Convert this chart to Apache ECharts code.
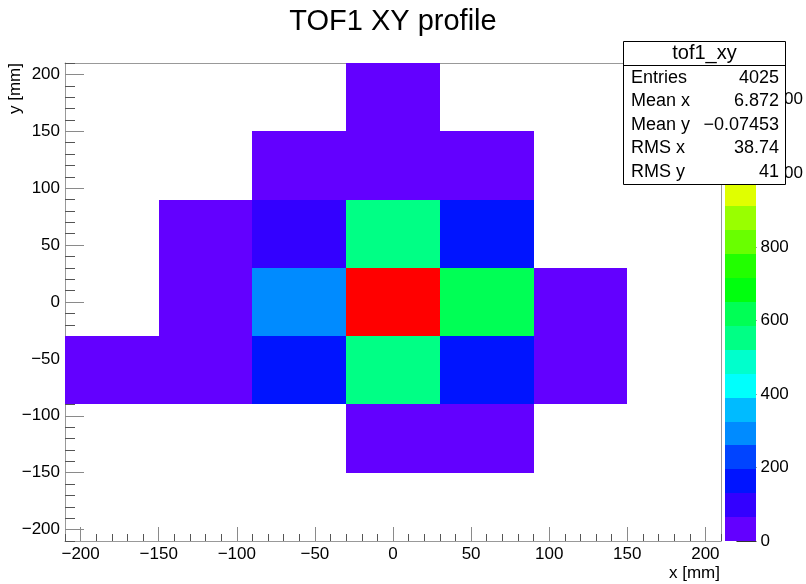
<!DOCTYPE html>
<html><head><meta charset="utf-8">
<script src="https://cdn.jsdelivr.net/npm/echarts@6/dist/echarts.min.js"></script>
<style>html,body{margin:0;padding:0;background:#fff}#c{width:806px;height:584px}</style>
</head><body><div id="c"></div>
<script>
// ---- data ----
const binX = [0, -60, 0, 60, -120, -60, 0, 60, -120, -60, 0, 60, 120, -180, -120, -60, 0, 60, 120, 0, 60];
const binY = [180, 120, 120, 120, 60, 60, 60, 60, 0, 0, 0, 0, 0, -60, -60, -60, -60, -60, -60, -120, -120];
const binCounts = [10, 12, 8, 11, 8, 100, 556, 175, 9, 273, 1300, 640, 10, 6, 9, 135, 554, 180, 8, 12, 9];
const binWidth = 60;
const axisMin = -210, axisMax = 210;
const majorTicks = [-200, -150, -100, -50, 0, 50, 100, 150, 200];
const zTicks = [0, 200, 400, 600, 800, 1000, 1200];
const nLevels = 20;
const titleText = 'TOF1 XY profile';
const xTitle = 'x [mm]';
const yTitle = 'y [mm]';
const statsTitle = 'tof1_xy';
const statsLabels = ['Entries', 'Mean x', 'Mean y', 'RMS x', 'RMS y'];
const statsValues = ['4025', '6.872', '\u22120.07453', '38.74', '41'];

// ---- helpers ----
const FONT = '"Liberation Sans", Arial, Helvetica, sans-serif';
function hslToHex(h, s, l) {
  const k = n => (n + h / 30) % 12;
  const a = s * Math.min(l, 1 - l);
  const f = n => l - a * Math.max(-1, Math.min(k(n) - 3, Math.min(9 - k(n), 1)));
  const toHex = x => Math.round(x * 255).toString(16).padStart(2, '0');
  return '#' + toHex(f(0)) + toHex(f(8)) + toHex(f(4));
}
function levelColor(k) {
  const idx = Math.floor((k + 0.99) * 50 / nLevels);
  const hue = 280 - (idx + 1) * 5.6;
  return hslToHex(Math.max(hue, 0), 1, 0.5);
}
const zMax = Math.max(...binCounts);
const zStep = zMax / nLevels;
function levelOf(v) { return Math.min(nLevels - 1, Math.floor(v / zStep)); }
const fmt = v => String(v).replace('-', '\u2212');
const minorTicks = [];
for (let v = axisMin; v <= axisMax; v += 10) if (v % 50 !== 0) minorTicks.push(v);
const levels = [];
for (let k = 0; k < nLevels; k++) levels.push([k]);

const cellData = binX.map((x, i) => [x, binY[i], binCounts[i]]);

const chart = echarts.init(document.getElementById('c'), null, { renderer: 'canvas' });
const majorCol = '#8a8a8a', minorCol = '#555';
const GL = 65, GT = 63, GW = 656, GH = 478;

function mainAxis(extra) {
  return Object.assign({ gridIndex: 0, type: 'value', min: axisMin, max: axisMax, splitLine: { show: false } }, extra);
}
const frameLine = { show: true, onZero: false, lineStyle: { color: '#999', width: 1 } };
const noLine = { show: false, onZero: false };

function rectFrom(p1, p2, fill) {
  const x1 = Math.round(p1[0]), y1 = Math.round(p1[1]), x2 = Math.round(p2[0]), y2 = Math.round(p2[1]);
  return { type: 'rect', shape: { x: x1, y: y1, width: x2 - x1, height: y2 - y1 }, style: { fill: fill, stroke: null } };
}

const option = {
  animation: false,
  backgroundColor: '#fff',
  textStyle: { fontFamily: FONT },
  grid: [
    { left: GL, top: GT, width: GW, height: GH, containLabel: false },
    { left: 725, top: GT, width: 37, height: GH, containLabel: false }
  ],
  xAxis: [
    mainAxis({ position: 'bottom', axisLine: frameLine,
      axisTick: { show: true, inside: true, length: 14, customValues: majorTicks, lineStyle: { color: majorCol } },
      axisLabel: { show: true, customValues: majorTicks, formatter: fmt, fontSize: 17, color: '#000', margin: 5, fontFamily: FONT } }),
    mainAxis({ position: 'bottom', axisLine: noLine,
      axisTick: { show: true, inside: true, length: 7, customValues: minorTicks, lineStyle: { color: minorCol } },
      axisLabel: { show: false } }),
    mainAxis({ position: 'top', axisLine: frameLine, axisTick: { show: false }, axisLabel: { show: false } }),
    { gridIndex: 1, type: 'value', min: 0, max: 1, show: false, axisLine: noLine }
  ],
  yAxis: [
    mainAxis({ position: 'left', axisLine: frameLine,
      axisTick: { show: true, inside: true, length: 19, customValues: majorTicks, lineStyle: { color: majorCol } },
      axisLabel: { show: true, customValues: majorTicks, formatter: fmt, fontSize: 17, color: '#000', margin: 5, fontFamily: FONT } }),
    mainAxis({ position: 'left', axisLine: noLine,
      axisTick: { show: true, inside: true, length: 10, customValues: minorTicks, lineStyle: { color: minorCol } },
      axisLabel: { show: false } }),
    mainAxis({ position: 'right', axisLine: frameLine, axisTick: { show: false }, axisLabel: { show: false } }),
    { gridIndex: 1, type: 'value', min: 0, max: zMax, position: 'right',
      axisLine: noLine, splitLine: { show: false },
      axisTick: { show: true, inside: true, length: 20, customValues: zTicks, lineStyle: { color: '#333' } },
      axisLabel: { show: true, customValues: zTicks, fontSize: 17, color: '#000', margin: 4, fontFamily: FONT } }
  ],
  series: [
    {
      type: 'custom', xAxisIndex: 0, yAxisIndex: 0, clip: true,
      data: cellData, encode: { x: 0, y: 1 },
      renderItem: function (params, api) {
        const x = api.value(0), y = api.value(1), v = api.value(2);
        if (!(v > 0)) return null;
        const p1 = api.coord([x - binWidth / 2, y + binWidth / 2]);
        const p2 = api.coord([x + binWidth / 2, y - binWidth / 2]);
        return rectFrom(p1, p2, levelColor(levelOf(v)));
      }
    },
    {
      type: 'custom', xAxisIndex: 3, yAxisIndex: 3, clip: true,
      data: levels, encode: { y: 0 },
      renderItem: function (params, api) {
        const k = api.value(0);
        const p1 = api.coord([0, (k + 1) * zStep]);
        const p2 = api.coord([1, k * zStep]);
        return rectFrom(p1, p2, levelColor(k));
      }
    }
  ],
  graphic: [
    { type: 'text', x: 393, y: 22, z: 50, style: { text: titleText, fontSize: 29, fontFamily: FONT, fill: '#000', align: 'center', verticalAlign: 'middle' } },
    { type: 'text', x: 720, y: 573, z: 50, style: { text: xTitle, fontSize: 17, fontFamily: FONT, fill: '#000', align: 'right', verticalAlign: 'middle' } },
    { type: 'text', x: 15, y: 63, rotation: Math.PI / 2, z: 50, style: { text: yTitle, fontSize: 17, fontFamily: FONT, fill: '#000', align: 'right', verticalAlign: 'middle' } },
    { type: 'rect', z: 100, shape: { x: 623.5, y: 41.5, width: 162, height: 143 }, style: { fill: '#fff', stroke: '#000', lineWidth: 1 } },
    { type: 'line', z: 101, shape: { x1: 623.5, y1: 65.5, x2: 785.5, y2: 65.5 }, style: { stroke: '#000', lineWidth: 1 } },
    { type: 'text', x: 704.5, y: 53, z: 102, style: { text: statsTitle, fontSize: 20, fontFamily: FONT, fill: '#000', align: 'center', verticalAlign: 'middle' } }
  ].concat(statsLabels.map((t, i) => ({ type: 'text', x: 631, y: 78 + i * 23.5, z: 102,
      style: { text: t, fontSize: 18, fontFamily: FONT, fill: '#000', align: 'left', verticalAlign: 'middle' } })))
   .concat(statsValues.map((t, i) => ({ type: 'text', x: 779, y: 78 + i * 23.5, z: 102,
      style: { text: t, fontSize: 18, fontFamily: FONT, fill: '#000', align: 'right', verticalAlign: 'middle' } })))
};
chart.setOption(option);
</script>
</body></html>
